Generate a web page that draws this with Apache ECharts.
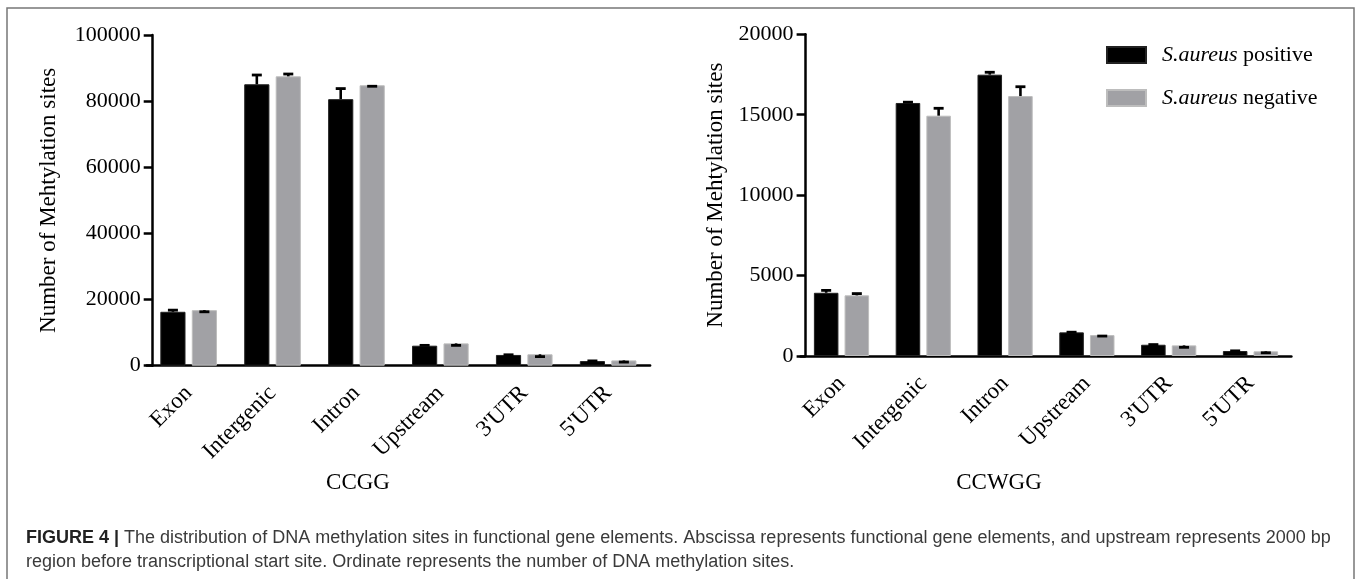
<!DOCTYPE html>
<html>
<head>
<meta charset="utf-8">
<script src="https://cdn.jsdelivr.net/npm/echarts@6/dist/echarts.min.js"></script>
<style>
html,body{margin:0;padding:0;background:#fff;}
#chart{width:1358px;height:579px;}
</style>
</head>
<body>
<div id="chart"></div>
<script>
// ---- data ----
var categories = ['Exon', 'Intergenic', 'Intron', 'Upstream', "3'UTR", "5'UTR"];
var seriesNames = ['S.aureus positive', 'S.aureus negative'];

// CCGG panel
var ccggPositive = [16300, 85100, 80600, 6050, 3250, 1400];
var ccggPositiveCap = [16800, 87900, 83800, 6150, 3300, 1450];
var ccggNegative = [16800, 87500, 84800, 6750, 3450, 1600];
var ccggNegativeCap = [16300, 88200, 84500, 6150, 2750, 1100];
var ccggYMax = 100000, ccggYInterval = 20000;

// CCWGG panel
var ccwggPositive = [3930, 15730, 17490, 1470, 700, 310];
var ccwggPositiveCap = [4080, 15780, 17640, 1480, 710, 320];
var ccwggNegative = [3770, 14940, 16160, 1300, 660, 290];
var ccwggNegativeCap = [3880, 15400, 16740, 1240, 540, 200];
var ccwggYMax = 20000, ccwggYInterval = 5000;

var panelTitles = ['CCGG', 'CCWGG'];
var yAxisTitle = 'Number of Mehtylation sites';
var captionLine1 = 'The distribution of DNA methylation sites in functional gene elements. Abscissa represents functional gene elements, and upstream represents 2000 bp';
var captionLine2 = 'region before transcriptional start site. Ordinate represents the number of DNA methylation sites.';

// ---- styling ----
var SERIF = 'Liberation Serif';
var BLACK = '#000000';
var GRAY = '#a1a1a5';
var BAR_W = 0.30, BAR_GAP = 0.25;

function errData(means, caps) {
  return means.map(function (m, i) { return [i, m, caps[i]]; });
}
function errRender(side) {
  return function (params, api) {
    var idx = api.value(0), mean = api.value(1), cap = api.value(2);
    var band = api.size([1, 0])[0];
    var off = side * band * BAR_W * (1 + BAR_GAP) / 2;
    var p0 = api.coord([idx, mean]);
    var p1 = api.coord([idx, cap]);
    var x = p0[0] + off;
    return {
      type: 'group',
      children: [
        { type: 'line', shape: { x1: x, y1: p0[1], x2: x, y2: p1[1] }, style: { stroke: '#000', lineWidth: 2.6 } },
        { type: 'line', shape: { x1: x - 5, y1: p1[1], x2: x + 5, y2: p1[1] }, style: { stroke: '#000', lineWidth: 2.8 } }
      ]
    };
  };
}

function xAxisCfg(gridIndex) {
  return {
    type: 'category', gridIndex: gridIndex, data: categories,
    axisLine: { lineStyle: { color: '#000', width: 2.5 } },
    axisTick: { alignWithLabel: true, length: 9, lineStyle: { color: '#000', width: 2.5 } },
    axisLabel: { rotate: 45, margin: 24, color: '#000', fontFamily: SERIF, fontSize: 23 }
  };
}
function yAxisCfg(gridIndex, max, interval, offset, nameGap) {
  return {
    type: 'value', gridIndex: gridIndex, min: 0, max: max, interval: interval, offset: offset,
    name: yAxisTitle, nameLocation: 'middle', nameRotate: 90, nameGap: nameGap,
    nameTextStyle: { color: '#000', fontFamily: SERIF, fontSize: 23 },
    axisLine: { show: true, lineStyle: { color: '#000', width: 2.5 } },
    axisTick: { show: true, length: 9, lineStyle: { color: '#000', width: 2.5 } },
    axisLabel: { margin: 12, color: '#000', fontFamily: SERIF, fontSize: 22,
      formatter: function (v) { return String(v); } },
    splitLine: { show: false }
  };
}
function barSeries(name, data, color, axisIdx) {
  return {
    type: 'bar', name: name, xAxisIndex: axisIdx, yAxisIndex: axisIdx, data: data,
    barWidth: (BAR_W * 100) + '%', barGap: (BAR_GAP * 100) + '%',
    itemStyle: { color: color, borderColor: color === GRAY ? '#bdbdbd' : '#222', borderWidth: 1 },
    emphasis: { disabled: true }, animation: false
  };
}
function errSeries(means, caps, side, axisIdx) {
  return {
    type: 'custom', xAxisIndex: axisIdx, yAxisIndex: axisIdx, z: 5,
    data: errData(means, caps), renderItem: errRender(side), animation: false, silent: true
  };
}

var chart = echarts.init(document.getElementById('chart'), null, { renderer: 'canvas' });
chart.setOption({
  backgroundColor: '#fff',
  animation: false,
  grid: [
    { left: 146.7, top: 35, width: 503.4, height: 330.7 },
    { left: 800.6, top: 34.3, width: 490.8, height: 321.7 }
  ],
  xAxis: [xAxisCfg(0), xAxisCfg(1)],
  yAxis: [
    yAxisCfg(0, ccggYMax, ccggYInterval, -6, 92),
    yAxisCfg(1, ccwggYMax, ccwggYInterval, -5, 78)
  ],
  legend: {
    data: seriesNames, orient: 'vertical', left: 1101, top: 39,
    itemWidth: 39, itemHeight: 16, itemGap: 21,
    icon: 'rect',
    formatter: function (n) { return n.replace('S.aureus', '{i|S.aureus}'); },
    textStyle: {
      color: '#000', fontFamily: SERIF, fontSize: 22, lineHeight: 22, padding: [0, 0, 0, 11],
      rich: { i: { fontStyle: 'italic', fontFamily: SERIF, fontSize: 22, color: '#000' } }
    }
  },
  series: [
    barSeries(seriesNames[0], ccggPositive, BLACK, 0),
    barSeries(seriesNames[1], ccggNegative, GRAY, 0),
    errSeries(ccggPositive, ccggPositiveCap, -1, 0),
    errSeries(ccggNegative, ccggNegativeCap, 1, 0),
    barSeries(seriesNames[0], ccwggPositive, BLACK, 1),
    barSeries(seriesNames[1], ccwggNegative, GRAY, 1),
    errSeries(ccwggPositive, ccwggPositiveCap, -1, 1),
    errSeries(ccwggNegative, ccwggNegativeCap, 1, 1)
  ],
  graphic: [
    { type: 'rect', shape: { x: 7, y: 8, width: 1347, height: 620 }, style: { fill: 'none', stroke: '#777', lineWidth: 1.5 }, silent: true },
    { type: 'text', x: 358, y: 483, style: { text: panelTitles[0], fill: '#000', font: '23px "Liberation Serif"', textAlign: 'center', textVerticalAlign: 'middle' } },
    { type: 'text', x: 999, y: 483, style: { text: panelTitles[1], fill: '#000', font: '23px "Liberation Serif"', textAlign: 'center', textVerticalAlign: 'middle' } },
    { type: 'text', x: 26, y: 538, style: {
        text: '{b|FIGURE 4 |} ' + captionLine1,
        fill: '#3a3a3a', font: '18px "Liberation Sans"', textVerticalAlign: 'middle',
        rich: { b: { fontWeight: 'bold', fontFamily: 'Liberation Sans', fontSize: 18, fill: '#222' } }
      } },
    { type: 'text', x: 26, y: 562, style: { text: captionLine2, fill: '#3a3a3a', font: '18px "Liberation Sans"', textVerticalAlign: 'middle' } }
  ]
});
</script>
</body>
</html>
